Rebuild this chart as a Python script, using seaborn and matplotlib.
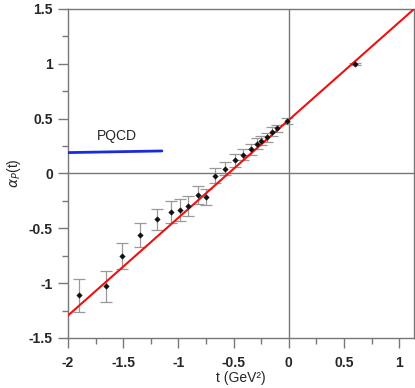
import numpy as np
import pandas as pd
import seaborn as sns
from matplotlib import pyplot as plt
from matplotlib.ticker import MultipleLocator

# data points
T_DATA = [-1.90, -1.66, -1.51, -1.35, -1.19, -1.07, -0.99, -0.91, -0.825, -0.75,
          -0.67, -0.577, -0.485, -0.415, -0.345, -0.285, -0.25, -0.20, -0.15,
          -0.11, -0.015, 0.60]
ALPHA_DATA = [-1.11, -1.03, -0.75, -0.56, -0.42, -0.35, -0.33, -0.30, -0.195, -0.216,
              -0.02, 0.044, 0.12, 0.17, 0.22, 0.27, 0.30, 0.33, 0.38,
              0.41, 0.48, 1.00]
ALPHA_ERR = [0.15, 0.14, 0.12, 0.11, 0.10, 0.10, 0.10, 0.09, 0.08, 0.07,
             0.07, 0.06, 0.06, 0.05, 0.05, 0.05, 0.04, 0.04, 0.04,
             0.03, 0.03, 0.01]

# linear trajectory (red)
FIT_T = [-2.0, 1.135]
FIT_ALPHA = [-1.295, 1.50]

# PQCD level (blue)
PQCD_T = [-2.0, -1.15]
PQCD_ALPHA = [0.19, 0.205]

X_TICKS = [-2, -1.5, -1, -0.5, 0, 0.5, 1]
Y_TICKS = [-1.5, -1, -0.5, 0, 0.5, 1, 1.5]


def main():
    sns.set_style('ticks')
    plt.rcParams['font.family'] = ['Liberation Sans', 'DejaVu Sans']

    fig = plt.figure(figsize=(4.15, 3.88), dpi=100)
    ax = fig.add_axes([0.164, 0.129, 0.834, 0.848])

    ax.axhline(0, color='#777777', lw=1.0, zorder=1)
    ax.axvline(0, color='#777777', lw=1.0, zorder=1)

    pts = pd.DataFrame({'t': T_DATA, 'alpha': ALPHA_DATA, 'err': ALPHA_ERR})
    ax.errorbar(pts['t'], pts['alpha'], yerr=pts['err'], fmt='none',
                ecolor='#999999', elinewidth=0.9, capsize=4, capthick=0.9, zorder=2)

    fit = pd.DataFrame({'t': FIT_T, 'alpha': FIT_ALPHA})
    sns.lineplot(data=fit, x='t', y='alpha', color='#ee1111', lw=1.5, ax=ax, zorder=3)

    sns.scatterplot(data=pts, x='t', y='alpha', marker='D', s=8, color='#111111',
                    edgecolor='#111111', linewidth=0.3, ax=ax, zorder=4)

    pqcd = pd.DataFrame({'t': PQCD_T, 'alpha': PQCD_ALPHA})
    sns.lineplot(data=pqcd, x='t', y='alpha', color='#1a2bdd', lw=2.0, ax=ax, zorder=3)
    ax.text(-1.56, 0.34, 'PQCD', fontsize=10, ha='center', va='center')

    ax.set_xlim(-2, 1.135)
    ax.set_ylim(-1.5, 1.5)
    ax.set_xticks(X_TICKS)
    ax.set_yticks(Y_TICKS)
    ax.set_xticklabels([f'{v:g}' for v in X_TICKS], fontsize=10, fontweight='bold')
    ax.set_yticklabels([f'{v:g}' for v in Y_TICKS], fontsize=10, fontweight='bold')
    ax.xaxis.set_minor_locator(MultipleLocator(0.25))
    ax.yaxis.set_minor_locator(MultipleLocator(0.25))
    ax.tick_params(which='major', length=7, width=1, color='#777777', direction='out')
    ax.tick_params(which='minor', length=4, width=1, color='#777777', direction='out')
    ax.tick_params(axis='x', which='major', pad=6)
    ax.tick_params(axis='y', which='major', pad=4)

    for side in ('left', 'bottom', 'top', 'right'):
        ax.spines[side].set_color('#777777')
        ax.spines[side].set_linewidth(1.0)

    ax.set_xlabel('t (GeV²)', fontsize=10, labelpad=1)
    ax.set_ylabel(r'$\alpha_P$(t)', fontsize=10, labelpad=4)

    fig.savefig('out.png', dpi=100)


if __name__ == '__main__':
    main()
